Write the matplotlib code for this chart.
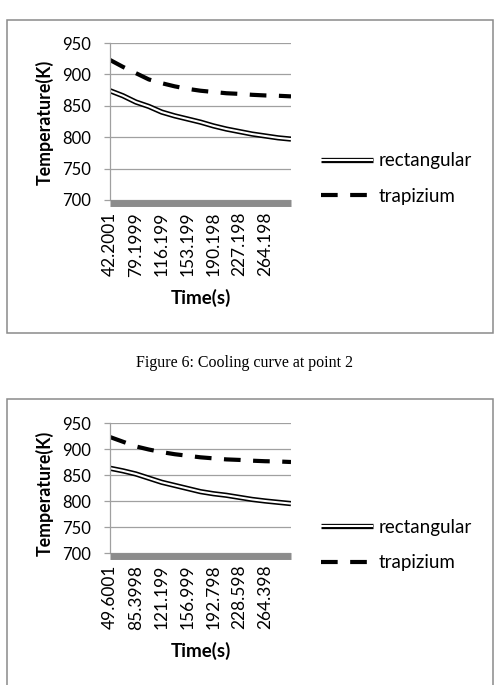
import matplotlib
matplotlib.use("Agg")
import matplotlib.pyplot as plt
import matplotlib.patheffects as pe
from matplotlib.patches import Rectangle

# === Data ===
time_p2 = ["42.2001", "60.7", "79.1999", "97.6995", "116.199", "134.699", "153.199",
           "171.699", "190.198", "208.698", "227.198", "245.698", "264.198", "282.698", "301.198"]
rect_p2 = [874, 866, 856, 849, 840, 834, 829, 824, 818, 813, 809, 805, 802, 799, 797]
trap_p2 = [923, 912, 902, 892, 886, 881, 877, 874, 872, 870, 869, 867.5, 866.5, 866, 865]

time_p3 = ["49.6001", "67.5", "85.3998", "103.299", "121.199", "139.099", "156.999",
           "174.898", "192.798", "210.698", "228.598", "246.498", "264.398", "282.298", "300.198"]
rect_p3 = [863, 858, 852, 844, 836, 830, 824, 818, 814, 811, 807, 803, 800, 797.5, 795]
trap_p3 = [923, 914, 905, 899, 894, 890, 887, 884, 882, 880, 879, 877.5, 876.5, 876, 875]

y_ticks = [700, 750, 800, 850, 900, 950]
caption = "Figure 6: Cooling curve at point 2"

W, H = 495, 685
GRID = "#a0a0a0"
plt.rcParams["font.family"] = ["Lato", "DejaVu Sans"]

fig = plt.figure(figsize=(W / 100, H / 100), dpi=100)


def fx(px):
    return px / W


def fy(py):
    return 1 - py / H


def chart(box_top, box_bot, ax_top, ax_bot, times, rect, trap, ylab_y):
    # outer chart border
    fig.patches.append(Rectangle((fx(7), fy(box_bot)), fx(493) - fx(7), fy(box_top) - fy(box_bot),
                                 transform=fig.transFigure, fill=False, edgecolor="#8a8a8a", linewidth=1.1))
    ax = fig.add_axes([fx(110), fy(ax_bot), fx(291) - fx(110), fy(ax_top) - fy(ax_bot)])
    x = list(range(len(times)))
    ax.plot(x, rect, color="white", linewidth=1.5, label="rectangular", solid_capstyle="butt",
            path_effects=[pe.Stroke(linewidth=3.8, foreground="black"), pe.Normal()])
    ax.plot(x, trap, color="black", linewidth=3.0, linestyle=(0, (4, 3)), label="trapizium",
            dash_capstyle="butt")
    ax.set_xlim(0, len(times) - 1)
    ax.set_ylim(700, 950)
    ax.set_yticks(y_ticks)
    ax.set_yticklabels([str(v) for v in y_ticks])
    ax.set_xticks(x[:-1:2])
    ax.set_xticklabels(times[:-1:2])
    ax.tick_params(axis="y", length=4.5, width=0.9, color=GRID, pad=9, labelsize=12)
    ax.tick_params(axis="x", length=0, pad=6, labelrotation=90, labelsize=12.5)
    ax.grid(axis="y", color=GRID, linewidth=0.9)
    ax.set_axisbelow(True)
    for s in ["top", "right"]:
        ax.spines[s].set_visible(False)
    ax.spines["left"].set_color(GRID)
    ax.spines["left"].set_linewidth(0.9)
    ax.spines["bottom"].set_color("#8c8c8c")
    ax.spines["bottom"].set_linewidth(5)
    ax.spines["bottom"].set_capstyle("butt")
    ax.spines["bottom"].set_position(("outward", 2.5))
    fig.text(fx(45), fy(ylab_y), "Temperature(K)", rotation=90, ha="center", va="center",
             fontsize=12.8, fontweight="bold")
    fig.text(fx(201), fy(ax_bot + 98), "Time(s)", ha="center", va="center",
             fontsize=13.5, fontweight="bold")
    leg_y = (ax_top + ax_bot) / 2 + 57
    ax.legend(loc="center left", bbox_to_anchor=(fx(321), fy(leg_y)), bbox_transform=fig.transFigure,
              frameon=False, prop={"size": 13.5}, handlelength=2.75,
              handletextpad=0.3, labelspacing=1.0, borderpad=0, borderaxespad=0)
    return ax


chart(20, 333, 43, 200, time_p2, rect_p2, trap_p2, 122)
fig.text(fx(244), fy(363), caption, ha="center", va="center", fontsize=11.5, family="Liberation Serif")
chart(399, 700, 423, 553, time_p3, rect_p3, trap_p3, 493)

fig.savefig("out.png", dpi=100)
